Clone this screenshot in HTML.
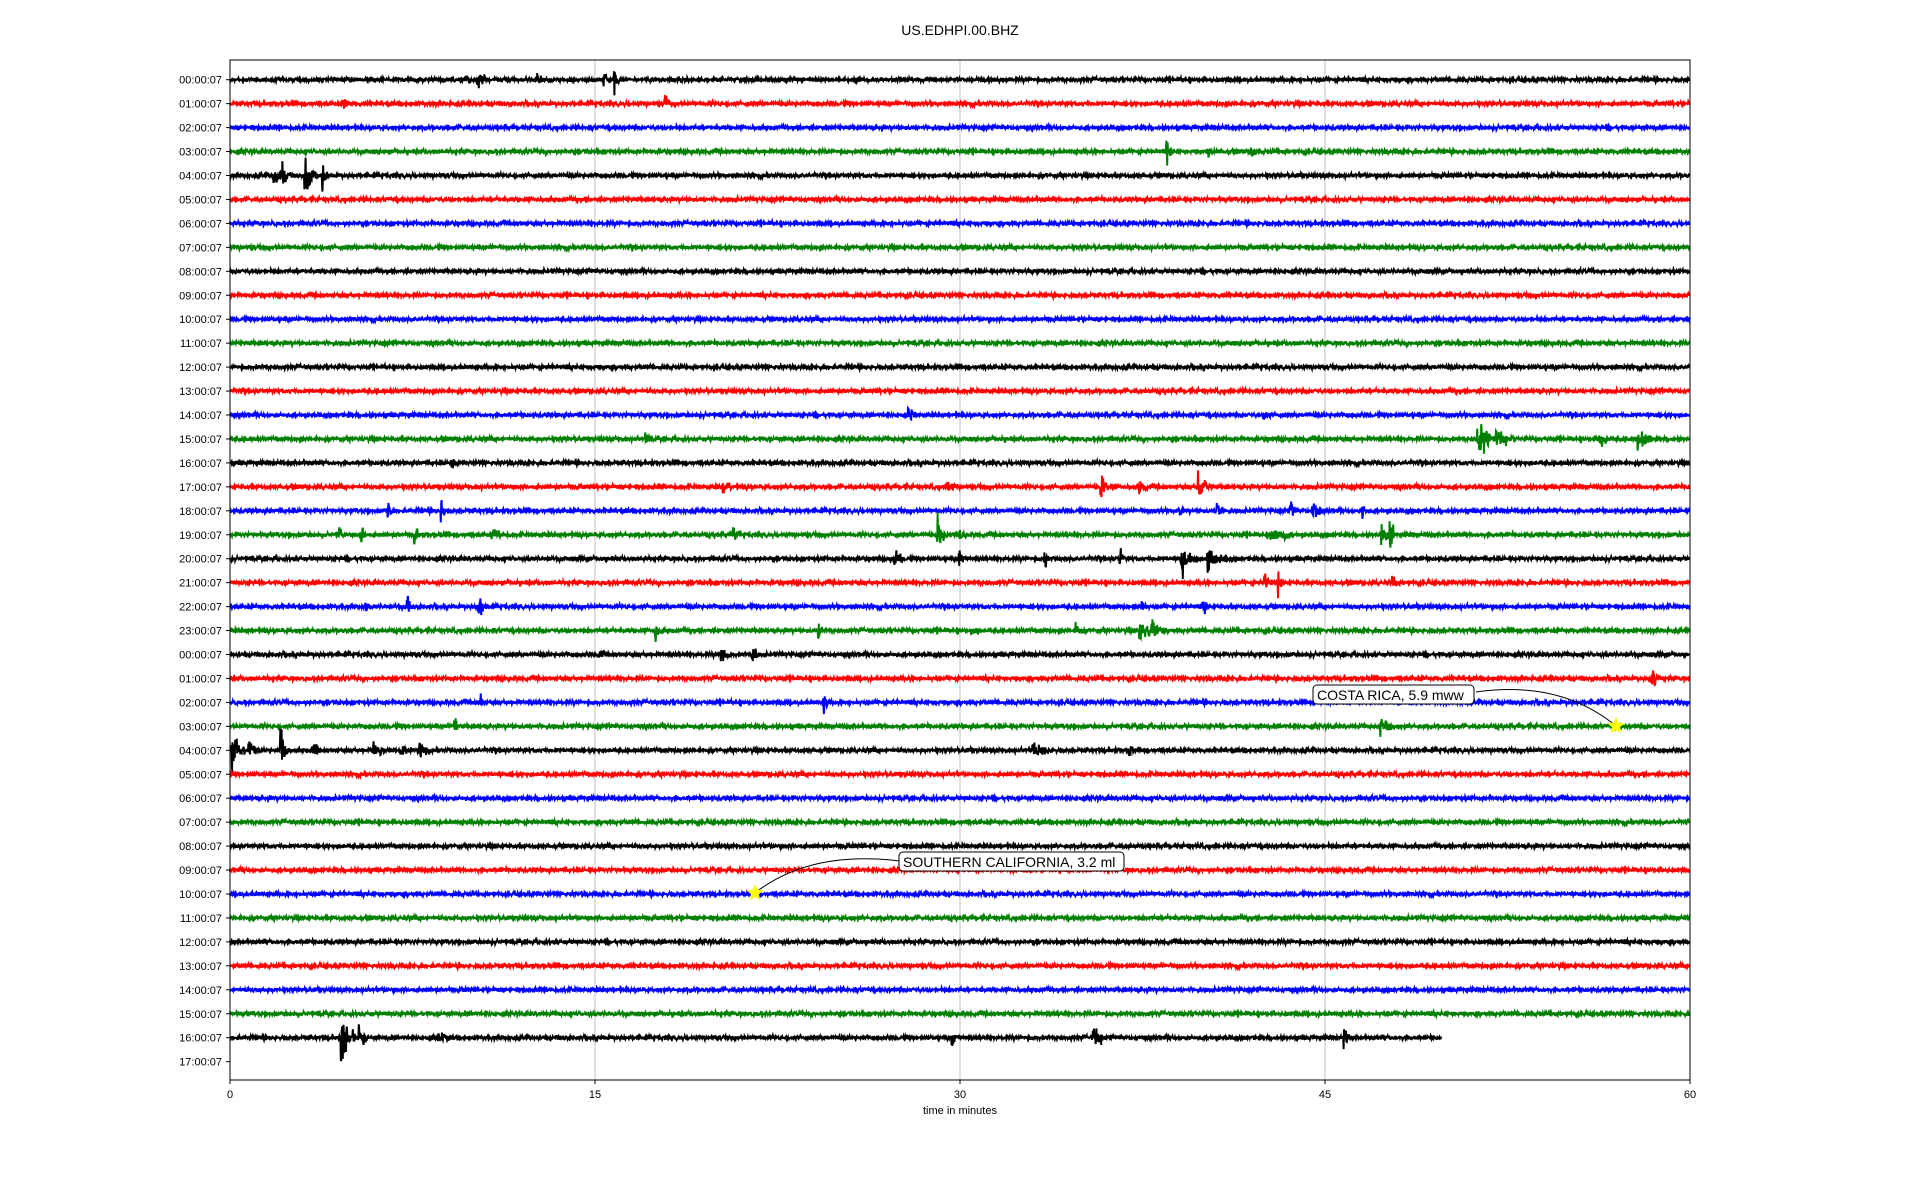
<!DOCTYPE html>
<html><head><meta charset="utf-8"><style>
html,body{margin:0;padding:0;background:#fff;}
svg{display:block;font-family:"Liberation Sans","DejaVu Sans",sans-serif;}
</style></head><body>
<svg id="s" width="1920" height="1200" xmlns="http://www.w3.org/2000/svg">
<rect x="0" y="0" width="1920" height="1200" fill="#fff"/>
<text x="960" y="35" font-size="14" text-anchor="middle">US.EDHPI.00.BHZ</text>
<g id="grid"></g>
<g id="traces"></g>
<rect x="230" y="60" width="1460" height="1020" fill="none" stroke="#000" stroke-width="1"/>
<g id="ticks" font-size="11"></g>
<text x="960" y="1114" font-size="11" text-anchor="middle">time in minutes</text>
<path d="M1616 726 Q1560 680 1476 692" fill="none" stroke="#000" stroke-width="1"/>
<path d="M755 893 Q810 850 900 861" fill="none" stroke="#000" stroke-width="1"/>
<rect x="1313" y="685" width="161" height="19" rx="4" fill="#fff" stroke="#000"/>
<text x="1317" y="700" font-size="14">COSTA RICA, 5.9 mww</text>
<rect x="899" y="852" width="225" height="19" rx="4" fill="#fff" stroke="#000"/>
<text x="903" y="867" font-size="14">SOUTHERN CALIFORNIA, 3.2 ml</text>
<polygon id="st1" fill="#ffff00"/>
<polygon id="st2" fill="#ffff00"/>
</svg>
<script>
var NS="http://www.w3.org/2000/svg";
var L=230,R=1690,T=60,B=1080,W=R-L;
var y0=79.7,dy=23.95;
var seed=12345;function rnd(){seed=(seed*1103515245+12345)%2147483648;return seed/2147483648;}
function g(){return (rnd()+rnd()+rnd()-1.5)*1.8;}
var grid=document.getElementById('grid');
[15,30,45].forEach(function(m){var x=L+W*m/60;var l=document.createElementNS(NS,'line');l.setAttribute('x1',x);l.setAttribute('x2',x);l.setAttribute('y1',T);l.setAttribute('y2',B);l.setAttribute('stroke','#b0b0b0');l.setAttribute('stroke-width','0.8');grid.appendChild(l);});
var tk=document.getElementById('ticks');
function add(tag,attrs,txt){var e=document.createElementNS(NS,tag);for(var k in attrs)e.setAttribute(k,attrs[k]);if(txt!==undefined)e.textContent=txt;tk.appendChild(e);}
[0,15,30,45,60].forEach(function(m){var x=L+W*m/60;add('line',{x1:x,x2:x,y1:B,y2:B+4,stroke:'#000'});add('text',{x:x,y:B+18,'text-anchor':'middle'},String(m));});
var cols=['#000000','#ff0000','#0000ff','#008000'];
var tr=document.getElementById('traces');
var ev=[[0,10.2,8,0.3],[0,12.6,6,0.3],[0,15.4,7,0.3],[0,15.8,9,0.2],[1,4.7,5,0.2],[1,17.9,5,0.2],[3,38.5,7,0.3],[3,40.2,4,0.5],[3,42,8,0.2],
[4,1.8,10,0.3],[4,3.1,18,0.4],[4,3.8,7,0.3],[4,2.2,6,0.3],[14,27.9,4,0.3],[14,42.5,4,0.3],[15,51.3,20,0.5],[15,52,6,0.8],[15,56.3,6,0.4],[15,57.8,5,0.8],[15,17.1,4,0.2],[16,9.1,6,0.2],
[17,20.3,6,0.3],[17,29.5,5,0.4],[17,35.8,7,0.6],[17,37.4,5,0.3],[17,39.8,8,0.6],[18,6.5,7,0.2],[18,8.7,6,0.2],[18,39,7,0.2],[18,40.6,9,0.2],[18,43.6,6,0.2],[18,44.5,8,0.4],[18,46.5,6,0.3],
[19,4.5,4,0.2],[19,5.4,5,0.2],[19,7.6,5,0.2],[19,10.8,5,0.5],[19,20.7,6,0.3],[19,29.1,9,0.4],[19,30,5,0.2],[19,42.8,8,0.7],[19,47.3,7,0.5],[19,47.7,10,0.2],
[20,27.3,6,0.4],[20,30,7,0.2],[20,33.5,5,0.3],[20,36.6,5,0.2],[20,39.1,10,0.7],[20,40.2,11,0.8],[21,42.5,6,0.3],[21,43.1,7,0.2],[21,47.8,4,0.2],[22,5.6,4,0.2],[22,7.3,7,0.2],[22,10.2,6,0.5],[22,37.5,5,0.2],[22,40,4,0.2],
[23,17.5,7,0.3],[23,24.2,7,0.2],[23,30.5,5,0.3],[23,34.8,4,0.3],[23,37.4,9,0.4],[23,37.9,8,0.5],[24,20.2,7,0.4],[24,21.5,8,0.2],[24,15.2,4,0.2],[25,58.4,7,0.5],[26,10.3,5,0.2],[26,24.4,6,0.2],
[27,9.2,7,0.3],[27,47.3,5,0.6],[28,0.1,14,0.5],[28,0.8,6,0.3],[28,2.1,14,0.3],[28,3.4,5,0.3],[28,5.9,6,0.6],[28,7,7,0.4],[28,7.8,7,0.5],[28,33,4,1],[28,37,4,0.3],
[40,4.6,18,0.6],[40,5.3,8,0.4],[40,8.6,6,0.4],[40,29.7,7,0.2],[40,35.5,6,0.6],[40,45.8,6,0.2]];
var labs=[];for(var i=0;i<24;i++)labs.push(i);for(var i=0;i<18;i++)labs.push(i);
for(var i=0;i<42;i++){
 var y=y0+i*dy;
 add('line',{x1:L-4,x2:L,y1:y,y2:y,stroke:'#000'});
 add('text',{x:L-8,y:y+4,'text-anchor':'end'},(labs[i]<10?'0':'')+labs[i]+':00:07');
 if(i==41)continue;
 var endx=(i==40)?L+W*49.8/60:R;
 var my=ev.filter(function(e){return e[0]==i;});
 var d='';
 for(var x=L;x<=endx;x+=0.4){
   var m=(x-L)/W*60;var a=1;
   my.forEach(function(e){var t=m-e[1];if(t>-0.05&&t<e[3]){a+=e[2]*Math.exp(-Math.max(t,0)/(e[3]*0.4))/1.7;}});
   var v=g()*a;if(a>1.5&&rnd()<0.5)v*=1.6;
   d+=(d?'L':'M')+x.toFixed(1)+' '+(y+v).toFixed(1);
 }
 var p=document.createElementNS(NS,'path');p.setAttribute('d',d);p.setAttribute('fill','none');p.setAttribute('stroke',cols[i%4]);p.setAttribute('stroke-width','2');tr.appendChild(p);
}
function star(id,cx,cy,r){var pts=[];for(var k=0;k<10;k++){var ang=-Math.PI/2+k*Math.PI/5;var rr=k%2?r*0.45:r;pts.push((cx+rr*Math.cos(ang)).toFixed(1)+','+(cy+rr*Math.sin(ang)).toFixed(1));}document.getElementById(id).setAttribute('points',pts.join(' '));}
star('st1',1616,726,9);star('st2',755,893,9);
</script>
</body></html>
